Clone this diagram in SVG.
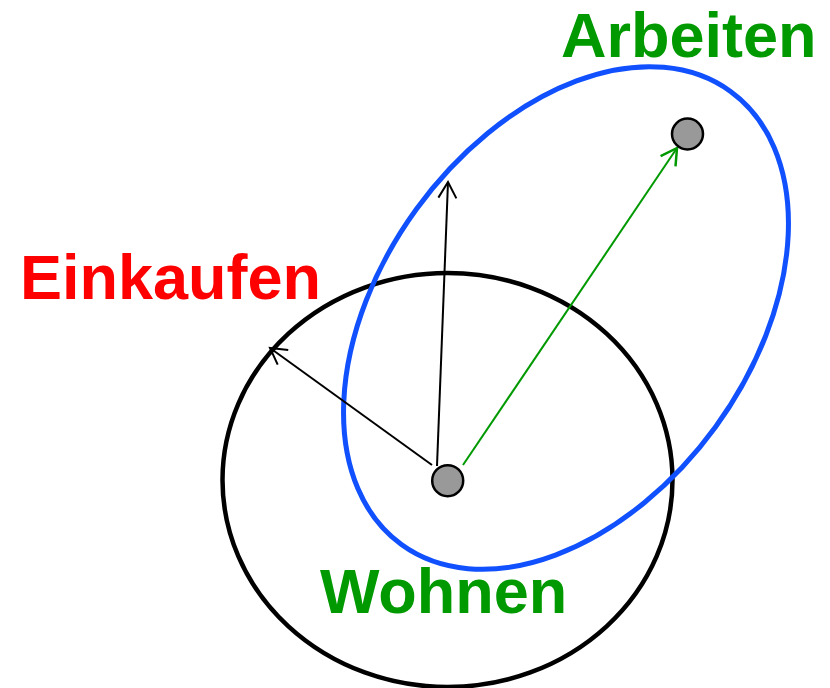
<svg xmlns="http://www.w3.org/2000/svg" width="830" height="688" viewBox="0 0 830 688">
<style>
.lbl{font-family:"Liberation Sans",Arial,sans-serif;font-weight:bold;font-size:63px}
.dot{fill:#999999;stroke:#000;stroke-width:2.5}
</style>
<defs>
<marker id="ab" markerUnits="userSpaceOnUse" markerWidth="40" markerHeight="40" viewBox="-20 -20 40 40" refX="0" refY="0" orient="auto">
<path d="M-16,-9 L0,0 L-16,9" fill="none" stroke="#000" stroke-width="2"/>
</marker>
<marker id="ag" markerUnits="userSpaceOnUse" markerWidth="40" markerHeight="40" viewBox="-20 -20 40 40" refX="0" refY="0" orient="auto">
<path d="M-16,-9 L0,0 L-16,9" fill="none" stroke="#009900" stroke-width="2.5"/>
</marker>
</defs>
<rect width="830" height="688" fill="#fff"/>
<g id="wohnen-zone">
<ellipse cx="447.5" cy="480" rx="225" ry="207" fill="none" stroke="#000" stroke-width="4.5"/>
</g>
<g id="arbeiten-zone">
<ellipse cx="566" cy="318" rx="280" ry="185" transform="rotate(-54 566 318)" fill="none" stroke="#1050ff" stroke-width="5"/>
</g>
<g id="connectors">
<line x1="437" y1="466" x2="448" y2="182" stroke="#000" stroke-width="2" marker-end="url(#ab)"/>
<line x1="432" y1="465" x2="270" y2="348" stroke="#000" stroke-width="2" marker-end="url(#ab)"/>
<line x1="463" y1="465" x2="677" y2="148" stroke="#009900" stroke-width="2" marker-end="url(#ag)"/>
</g>
<g id="home">
<circle class="dot" cx="447.7" cy="480.7" r="15.5"/>
</g>
<g id="work">
<circle class="dot" cx="687.5" cy="134" r="15.5"/>
</g>
<g id="label-arbeiten"><text class="lbl" x="561" y="57" fill="#009900">Arbeiten</text></g>
<g id="label-einkaufen"><text class="lbl" x="20" y="299" fill="#ff0000">Einkaufen</text></g>
<g id="label-wohnen"><text class="lbl" x="320" y="613" fill="#009900">Wohnen</text></g>
</svg>
